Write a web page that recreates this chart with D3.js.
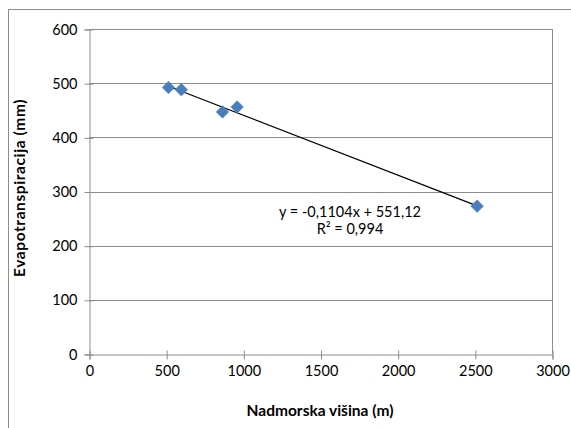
<!DOCTYPE html>
<html><head><meta charset="utf-8">
<script src="https://cdn.jsdelivr.net/npm/d3@7"></script>
<style>body{margin:0;background:#fff}svg{display:block}text{font-family:Lato,"Open Sans",sans-serif}</style>
</head><body><svg id="c" width="571" height="428"></svg>
<script>
const altitude = [515, 598, 865, 960, 2515];
const evapo = [492, 488, 447, 456, 273];
const xTicks = [0, 500, 1000, 1500, 2000, 2500, 3000];
const yTicks = [0, 100, 200, 300, 400, 500, 600];
const slope = -0.1104, intercept = 551.12;
const eqLines = ["y = -0,1104x + 551,12", "R² = 0,994"];
const xTitle = "Nadmorska višina (m)";
const yTitle = "Evapotranspiracija (mm)";

const svg = d3.select("#c");
const L = 89, R = 552, T = 29, B = 354;
const x = d3.scaleLinear().domain([0, 3000]).range([L, R]);
const y = d3.scaleLinear().domain([0, 600]).range([B, T]);

// outer chart border
svg.append("rect").attr("x", 8.5).attr("y", 9.5).attr("width", 600).attr("height", 500)
  .attr("fill", "none").attr("stroke", "#8c8c8c").attr("stroke-width", 1);

// gridlines
svg.append("g").selectAll("line").data(yTicks.filter(d => d > 0)).join("line")
  .attr("x1", L).attr("x2", R).attr("y1", d => Math.round(y(d)) + 0.5).attr("y2", d => Math.round(y(d)) + 0.5)
  .attr("stroke", "#8c8c8c").attr("stroke-width", 1);
svg.append("line").attr("x1", R + 0.5).attr("x2", R + 0.5).attr("y1", T).attr("y2", B)
  .attr("stroke", "#8c8c8c");

// axes
const yAxis = d3.axisLeft(y).tickValues(yTicks).tickSize(5).tickPadding(6).tickFormat(d3.format("d"));
const gy = svg.append("g").attr("transform", `translate(${L + 0.5},0.5)`).call(yAxis);
const xAxis = d3.axisBottom(x).tickValues(xTicks).tickSize(5).tickPadding(6).tickFormat(d3.format("d"));
const gx = svg.append("g").attr("transform", `translate(0.5,${B + 0.5})`).call(xAxis);
[gx, gy].forEach(g => {
  g.selectAll(".domain").attr("stroke", "#8c8c8c");
  g.selectAll(".tick line").attr("stroke", "#8c8c8c");
  g.selectAll("text").attr("font-size", 14.5).attr("fill", "#000");
});
gy.selectAll(".tick line").attr("x1", 4);
gx.selectAll(".tick line").attr("y1", -4);
gy.selectAll("text").attr("dx", -1);

// trendline
const xmin = d3.min(altitude), xmax = d3.max(altitude);
svg.append("line").attr("x1", x(xmin)).attr("y1", y(slope * xmin + intercept))
  .attr("x2", x(xmax)).attr("y2", y(slope * xmax + intercept))
  .attr("stroke", "#000").attr("stroke-width", 1.2);

// markers
const sym = d3.symbol().type(d3.symbolSquare).size(80);
svg.append("g").selectAll("path").data(altitude).join("path")
  .attr("d", sym)
  .attr("transform", (d, i) => `translate(${x(d)},${y(evapo[i])}) rotate(45)`)
  .attr("fill", "#4a7ebb").attr("stroke", "#4f81bd").attr("stroke-width", 0.5);

// equation
svg.append("g").selectAll("text").data(eqLines).join("text")
  .attr("x", 350).attr("y", (d, i) => 217 + i * 17).attr("text-anchor", "middle")
  .attr("font-size", 14.5).attr("fill", "#000").text(d => d);

// titles
svg.append("text").attr("x", 320).attr("y", 416).attr("text-anchor", "middle")
  .attr("font-size", 15.5).attr("font-weight", "bold").text(xTitle);
svg.append("text").attr("transform", "translate(25,188) rotate(-90)").attr("text-anchor", "middle")
  .attr("font-size", 15.5).attr("font-weight", "bold").attr("letter-spacing", 0.6).text(yTitle);
</script></body></html>
